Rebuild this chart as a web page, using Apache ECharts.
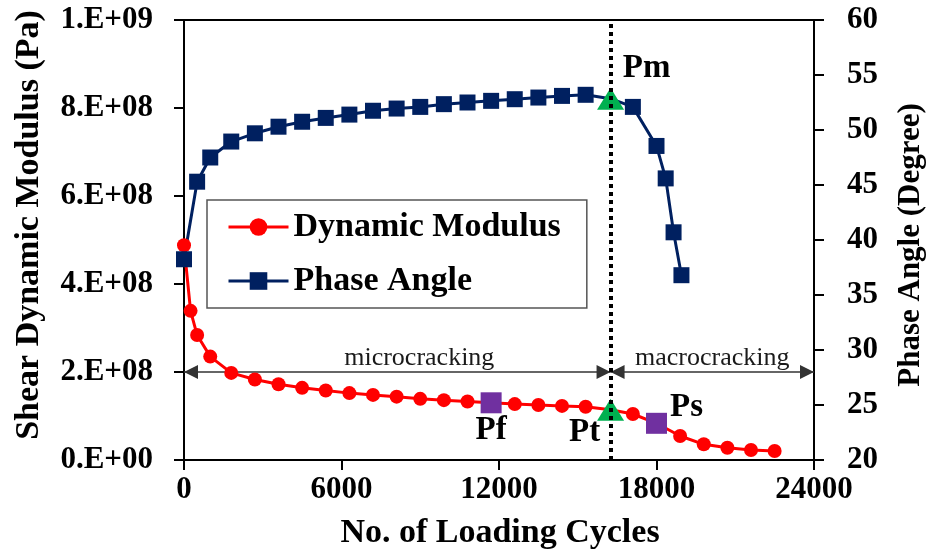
<!DOCTYPE html>
<html>
<head>
<meta charset="utf-8">
<script src="https://cdn.jsdelivr.net/npm/echarts@6/dist/echarts.min.js"></script>
<style>
  html, body { margin: 0; padding: 0; background: #ffffff; }
  #chart { width: 929px; height: 552px; }
</style>
</head>
<body>
<div id="chart"></div>
<script>
// Loading cycles and shear dynamic modulus (Pa)
const cyclesModulus = [0, 250, 500, 1000, 1800, 2700, 3600, 4500, 5400, 6300, 7200, 8100, 9000, 9900,
  10800, 11700, 12600, 13500, 14400, 15300, 16250, 17100, 18000, 18900, 19800, 20700, 21600, 22500];
const dynamicModulus = [4.88e8, 3.39e8, 2.84e8, 2.35e8, 1.98e8, 1.83e8, 1.72e8, 1.64e8, 1.58e8, 1.52e8,
  1.48e8, 1.44e8, 1.39e8, 1.36e8, 1.33e8, 1.30e8, 1.27e8, 1.25e8, 1.23e8, 1.21e8, 1.14e8, 1.045e8,
  0.834e8, 0.545e8, 0.357e8, 0.28e8, 0.227e8, 0.205e8];

// Loading cycles and phase angle (degree)
const cyclesPhase = [0, 500, 1000, 1800, 2700, 3600, 4500, 5400, 6300, 7200, 8100, 9000, 9900, 10800,
  11700, 12600, 13500, 14400, 15300, 16250, 17100, 18000, 18350, 18650, 18950];
const phaseAngle = [38.25, 45.3, 47.5, 48.95, 49.7, 50.3, 50.75, 51.1, 51.4, 51.75, 51.95, 52.1, 52.35,
  52.5, 52.65, 52.8, 52.95, 53.1, 53.2, 52.85, 52.1, 48.55, 45.6, 40.7, 36.8];

// Characteristic points (index into the series above)
const modulusKeyIndex = [15, 20, 22];
const modulusKeyNames = ['Pf', 'Pt', 'Ps'];
const phaseKeyIndex = [19];
const phaseKeyNames = ['Pm'];

// Cracking stages
const transitionCycle = 16250;
const stageArrowLevel = 2e8;
const stageNames = ['microcracking', 'macrocracking'];
const stageBounds = [[0, 16250], [16250, 24000]];

// Axis tick labels
const modulusTickLabels = ['0.E+00', '2.E+08', '4.E+08', '6.E+08', '8.E+08', '1.E+09'];

const SERIF = "'Liberation Serif', 'Times New Roman', serif";

const keyStyle = {
  Pf: { symbol: 'rect', size: 21, color: '#7030A0', offset: [0, 28] },
  Pt: { symbol: 'triangle', size: [27, 22], color: '#00B050', offset: [-26, 23] },
  Ps: { symbol: 'rect', size: 21, color: '#7030A0', offset: [30, -16] },
  Pm: { symbol: 'triangle', size: [27, 22], color: '#00B050', offset: [36, -30] }
};

function buildData(xs, ys, keyIdx, keyNames) {
  return xs.map(function (x, i) {
    const item = { value: [x, ys[i]] };
    const k = keyIdx.indexOf(i);
    if (k >= 0) {
      const name = keyNames[k];
      const s = keyStyle[name];
      item.symbol = s.symbol;
      item.symbolSize = s.size;
      item.itemStyle = { color: s.color };
      item.label = {
        show: true, formatter: name, position: 'inside', offset: s.offset,
        fontFamily: SERIF, fontWeight: 'bold', fontSize: 33, color: '#000'
      };
    }
    return item;
  });
}

const chart = echarts.init(document.getElementById('chart'));

chart.setOption({
  animation: false,
  backgroundColor: '#ffffff',
  grid: {
    left: 184, right: 115, top: 20, bottom: 92,
    show: true, borderColor: '#000', borderWidth: 2
  },
  legend: {
    data: ['Dynamic Modulus', 'Phase Angle'],
    orient: 'vertical',
    left: 207, top: 200,
    padding: [10, 26, 10, 20],
    itemGap: 20, itemWidth: 60, itemHeight: 22,
    backgroundColor: '#fff', borderColor: '#555', borderWidth: 1.5,
    lineStyle: { width: 3 },
    textStyle: { fontFamily: SERIF, fontWeight: 'bold', fontSize: 34, color: '#000', lineHeight: 30 }
  },
  xAxis: {
    type: 'value', min: 0, max: 24000, interval: 6000,
    axisLine: { lineStyle: { color: '#000', width: 2 } },
    axisTick: { show: true, length: 10, lineStyle: { color: '#000', width: 2 } },
    axisLabel: {
      margin: 14, fontFamily: SERIF, fontWeight: 'bold', fontSize: 31, color: '#000',
      formatter: function (v) { return String(v); }
    },
    splitLine: { show: false }
  },
  yAxis: [
    {
      type: 'value', position: 'left', min: 0, max: 1e9, interval: 2e8,
      axisLine: { show: true, lineStyle: { color: '#000', width: 2 } },
      axisTick: { show: true, length: 10, lineStyle: { color: '#000', width: 2 } },
      axisLabel: {
        margin: 31, fontFamily: SERIF, fontWeight: 'bold', fontSize: 31, color: '#000',
        formatter: function (v) { return modulusTickLabels[Math.round(v / 2e8)]; }
      },
      splitLine: { show: false }
    },
    {
      type: 'value', position: 'right', min: 20, max: 60, interval: 5,
      axisLine: { show: true, lineStyle: { color: '#000', width: 2 } },
      axisTick: { show: true, length: 10, lineStyle: { color: '#000', width: 2 } },
      axisLabel: { margin: 33, fontFamily: SERIF, fontWeight: 'bold', fontSize: 31, color: '#000' },
      splitLine: { show: false }
    }
  ],
  graphic: [
    {
      type: 'text', x: 500, y: 533, z: 10,
      style: { text: 'No. of Loading Cycles', fontFamily: SERIF, fontWeight: 'bold', fontSize: 34,
        fill: '#000', textAlign: 'center', textVerticalAlign: 'middle' }
    },
    {
      type: 'text', x: 29, y: 225, rotation: Math.PI / 2, z: 10,
      style: { text: 'Shear Dynamic Modulus (Pa)', fontFamily: SERIF, fontWeight: 'bold', fontSize: 34,
        fill: '#000', textAlign: 'center', textVerticalAlign: 'middle' }
    },
    {
      type: 'text', x: 911, y: 245, rotation: Math.PI / 2, z: 10,
      style: { text: 'Phase Angle (Degree)', fontFamily: SERIF, fontWeight: 'bold', fontSize: 31,
        fill: '#000', textAlign: 'center', textVerticalAlign: 'middle' }
    }
  ],
  series: [
    {
      // stage arrows drawn beneath the data marks
      name: 'stages', type: 'line', yAxisIndex: 0, data: [], z: 1,
      markLine: {
        silent: true, z: 1,
        symbol: ['triangle', 'triangle'],
        symbolSize: 14,
        symbolOffset: [[0, 7], [0, 7]],
        lineStyle: { color: '#333', width: 1.5, type: 'solid' },
        label: {
          show: true, position: 'middle', formatter: '{b}', distance: 1,
          fontFamily: SERIF, fontSize: 26, color: '#1a1a1a'
        },
        emphasis: { disabled: true },
        data: stageNames.map(function (name, i) {
          return [
            { coord: [stageBounds[i][0], stageArrowLevel], name: name,
              label: { offset: [i === 0 ? 22 : 0, 0] } },
            { coord: [stageBounds[i][1], stageArrowLevel] }
          ];
        })
      }
    },
    {
      name: 'Dynamic Modulus', type: 'line', yAxisIndex: 0, z: 3,
      symbol: 'circle', symbolSize: 14,
      itemStyle: { color: '#FF0000' },
      lineStyle: { color: '#FF0000', width: 3 },
      data: buildData(cyclesModulus, dynamicModulus, modulusKeyIndex, modulusKeyNames)
    },
    {
      name: 'Phase Angle', type: 'line', yAxisIndex: 1, z: 3,
      symbol: 'rect', symbolSize: 16,
      itemStyle: { color: '#002060' },
      lineStyle: { color: '#002060', width: 3 },
      data: buildData(cyclesPhase, phaseAngle, phaseKeyIndex, phaseKeyNames)
    },
    {
      // dotted boundary between micro- and macrocracking
      name: 'boundary', type: 'line', yAxisIndex: 0, data: [], z: 10,
      markLine: {
        silent: true, z: 10, symbol: 'none',
        lineStyle: { color: '#000', width: 4, type: [4, 4] },
        label: { show: false },
        emphasis: { disabled: true },
        data: [{ xAxis: transitionCycle }]
      }
    }
  ]
});
</script>
</body>
</html>
